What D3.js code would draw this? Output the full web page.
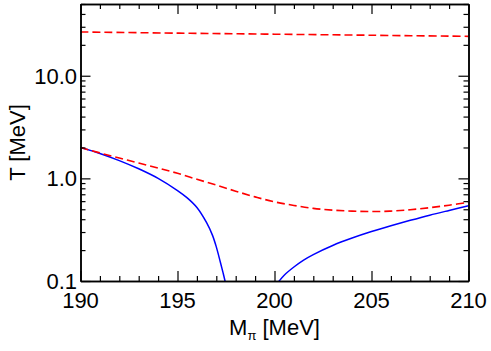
<!DOCTYPE html>
<html>
<head>
<meta charset="utf-8">
<script src="https://cdn.jsdelivr.net/npm/d3@7"></script>
<style>
  body { margin: 0; background: #fff; }
  svg text { font-family: "Liberation Sans", Arial, Helvetica, sans-serif; fill: #000; }
  .frame .domain { stroke: #000; stroke-width: 1.5; }
  .frame line { stroke: #000; stroke-width: 1.2; }
</style>
</head>
<body>
<svg id="chart" width="491" height="351"></svg>
<script>
// pion mass [MeV] vs temperature [MeV]
var mUpper = [190, 195, 200, 205, 210];
var tUpper = [26.7, 26.0, 25.4, 24.8, 24.2];

var mLowerDash = [190, 191, 192, 193, 194, 195, 196, 197, 198, 199, 200, 201, 202, 203, 204, 205, 206, 207, 208, 209, 210];
var tLowerDash = [2.0, 1.77, 1.58, 1.41, 1.26, 1.12, 0.98, 0.86, 0.75, 0.66, 0.59, 0.545, 0.51, 0.49, 0.48, 0.475, 0.48, 0.495, 0.518, 0.548, 0.585];

var mBlueLeft = [190, 191, 192, 193, 194, 195, 195.5, 196, 196.5, 196.8, 197.0, 197.2, 197.35, 197.45, 197.55];
var tBlueLeft = [2.0, 1.75, 1.49, 1.24, 1.00, 0.76, 0.645, 0.52, 0.37, 0.28, 0.215, 0.155, 0.12, 0.1, 0.08];

var mBlueRight = [200.1, 200.24, 200.5, 201, 201.5, 202, 203, 204, 205, 206, 207, 208, 209, 210];
var tBlueRight = [0.092, 0.1, 0.114, 0.137, 0.16, 0.181, 0.222, 0.262, 0.303, 0.345, 0.39, 0.438, 0.487, 0.54];

var xMajor = [190, 195, 200, 205, 210];
var yMajor = [0.1, 1, 10];

var svg = d3.select('#chart');
var pLeft = 80.5, pRight = 468.5, pTop = 4, pBottom = 281;

var x = d3.scaleLinear().domain([190, 210]).range([pLeft, pRight]);
var y = d3.scaleLog().domain([0.1, 50]).range([pBottom, pTop]);

var xMinor = d3.range(190, 211, 1).filter(function(d) { return d % 5 !== 0; });
var yMinor = [];
[0.1, 1, 10].forEach(function(dec) {
  for (var k = 2; k <= 9; k++) { if (dec * k <= 50) yMinor.push(dec * k); }
});

svg.append('defs').append('clipPath').attr('id', 'plotclip')
  .append('rect').attr('x', pLeft).attr('y', pTop).attr('width', pRight - pLeft).attr('height', pBottom - pTop);

function pairs(xs, ys) { return xs.map(function(d, i) { return [d, ys[i]]; }); }

var line = d3.line()
  .x(function(d) { return x(d[0]); })
  .y(function(d) { return y(d[1]); })
  .curve(d3.curveCatmullRom.alpha(0.5));

var curves = svg.append('g').attr('clip-path', 'url(#plotclip)');

curves.append('path').datum(pairs(mBlueLeft, tBlueLeft))
  .attr('d', line).attr('fill', 'none').attr('stroke', '#0000ff').attr('stroke-width', 1.5);
curves.append('path').datum(pairs(mBlueRight, tBlueRight))
  .attr('d', line).attr('fill', 'none').attr('stroke', '#0000ff').attr('stroke-width', 1.5);
curves.append('path').datum(pairs(mLowerDash, tLowerDash))
  .attr('d', line).attr('fill', 'none').attr('stroke', '#ff0000').attr('stroke-width', 1.6)
  .attr('stroke-dasharray', '8,4');
curves.append('path').datum(pairs(mUpper, tUpper))
  .attr('d', line).attr('fill', 'none').attr('stroke', '#ff0000').attr('stroke-width', 1.6)
  .attr('stroke-dasharray', '8,4');

// inward ticks on all four sides
function addAxis(axis, tx, ty) {
  var g = svg.append('g').attr('class', 'frame')
    .attr('transform', 'translate(' + tx + ',' + ty + ')').call(axis);
  g.selectAll('text').remove();
  return g;
}
addAxis(d3.axisBottom(x).tickValues(xMajor).tickSize(-10).tickSizeOuter(0), 0, pBottom);
addAxis(d3.axisBottom(x).tickValues(xMinor).tickSize(-5).tickSizeOuter(0), 0, pBottom);
addAxis(d3.axisTop(x).tickValues(xMajor).tickSize(-10).tickSizeOuter(0), 0, pTop);
addAxis(d3.axisTop(x).tickValues(xMinor).tickSize(-5).tickSizeOuter(0), 0, pTop);
addAxis(d3.axisLeft(y).tickValues(yMajor).tickSize(-10).tickSizeOuter(0), pLeft, 0);
addAxis(d3.axisLeft(y).tickValues(yMinor).tickSize(-5).tickSizeOuter(0), pLeft, 0);
addAxis(d3.axisRight(y).tickValues(yMajor).tickSize(-10).tickSizeOuter(0), pRight, 0);
addAxis(d3.axisRight(y).tickValues(yMinor).tickSize(-5).tickSizeOuter(0), pRight, 0);

// tick labels
svg.append('g').selectAll('text').data(xMajor).enter().append('text')
  .attr('x', function(d) { return x(d); })
  .attr('y', 308)
  .attr('text-anchor', 'middle')
  .attr('font-size', 22)
  .text(function(d) { return d; });

svg.append('g').selectAll('text').data(yMajor).enter().append('text')
  .attr('x', 77)
  .attr('y', function(d) { return y(d); })
  .attr('dy', '0.36em')
  .attr('text-anchor', 'end')
  .attr('font-size', 22)
  .text(function(d) { return d3.format('.1f')(d); });

// axis titles
var xt = svg.append('text')
  .attr('x', (pLeft + pRight) / 2)
  .attr('y', 335)
  .attr('text-anchor', 'middle')
  .attr('font-size', 22);
xt.append('tspan').text('M');
xt.append('tspan').attr('font-size', 13).attr('dy', 5).text('\u03c0');
xt.append('tspan').attr('dy', -5).text(' [MeV]');

svg.append('text')
  .attr('transform', 'translate(25,' + ((pTop + pBottom) / 2) + ') rotate(-90)')
  .attr('text-anchor', 'middle')
  .attr('font-size', 22)
  .text('T [MeV]');
</script>
</body>
</html>
